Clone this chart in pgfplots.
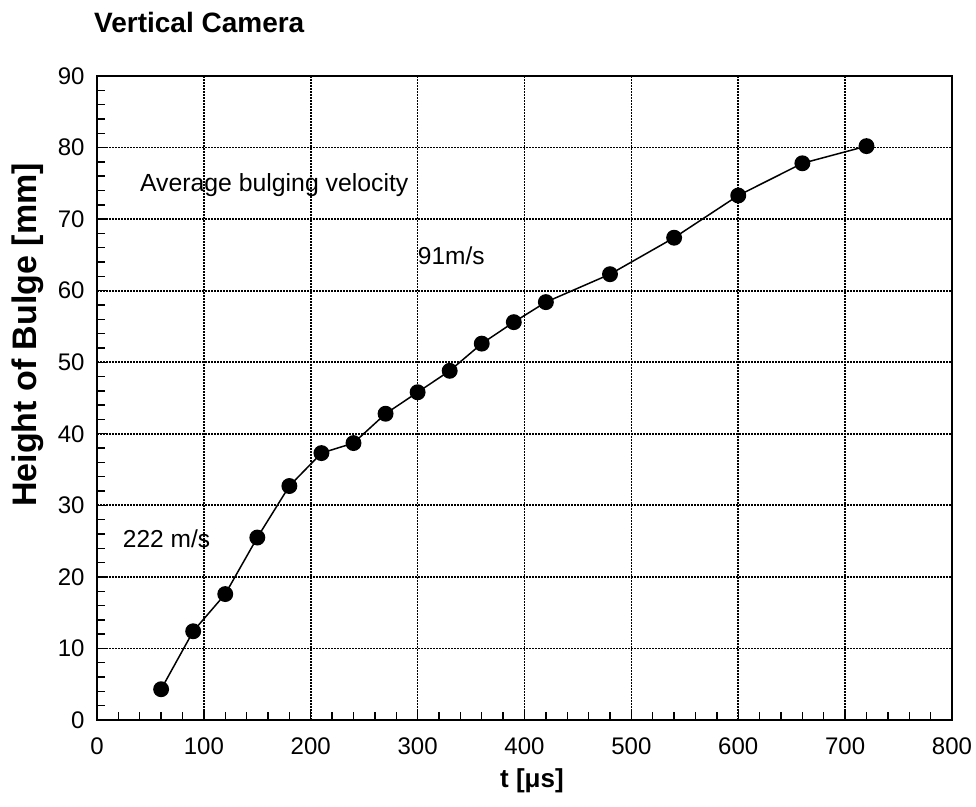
\documentclass[border=0pt]{standalone}
\usepackage{fontspec}
\setmainfont{Liberation Sans}
\usepackage{pgfplots}
\pgfplotsset{compat=1.18}
\begin{document}
\begin{tikzpicture}[x=1pt,y=1pt]
\path[use as bounding box] (-97pt,-86pt) rectangle (879pt,720pt);
\begin{axis}[
  at={(0pt,0pt)}, anchor=south west,
  width=855pt, height=644pt, scale only axis,
  xmin=0, xmax=800, ymin=0, ymax=90,
  xtick={0,100,...,800}, ytick={0,10,...,90},
  minor x tick num=4, minor y tick num=4,
  tick align=inside, xtick pos=bottom, ytick pos=left,
  major tick length=10pt, minor tick length=8pt,
  every tick/.style={black, line width=1.4pt},
  axis line style={black, line width=2.2pt},
  grid=major,
  major grid style={black, line width=1.7pt, dash pattern=on 1.6pt off 1.4pt},
  /pgf/number format/assume math mode=true,
  ticklabel style={font=\fontsize{24}{28}\selectfont},
  xticklabel style={yshift=-14pt},
  yticklabel style={xshift=-9pt},
  clip=false,
]
\addplot[black, line width=1.5pt, mark=*, mark size=7.2pt, mark options={fill=black}] coordinates {
(60,4.3) (90,12.4) (120,17.6) (150,25.5) (180,32.7) (210,37.3) (240,38.7)
(270,42.8) (300,45.8) (330,48.8) (360,52.6) (390,55.6) (420,58.4)
(480,62.3) (540,67.4) (600,73.3) (660,77.8) (720,80.2)
};
\node[anchor=west, font=\fontsize{24.8}{28}\selectfont] at (axis cs:37,74.8) {Average bulging velocity};
\node[anchor=west, font=\fontsize{24.5}{28}\selectfont] at (axis cs:297,64.9) {91m/s};
\node[anchor=west, font=\fontsize{24.5}{28}\selectfont] at (axis cs:21,25.3) {222 m/s};
\end{axis}
\node[anchor=base west, inner sep=0pt, font=\bfseries\fontsize{28}{32}\selectfont] at (-3pt,687pt) {Vertical Camera};
\node[rotate=90, font=\bfseries\fontsize{34}{38}\selectfont] at (-69pt,385pt) {Height of Bulge [mm]};
\node[font=\bfseries\fontsize{26}{30}\selectfont] at (435pt,-61pt) {t [μs]};
\end{tikzpicture}
\end{document}
